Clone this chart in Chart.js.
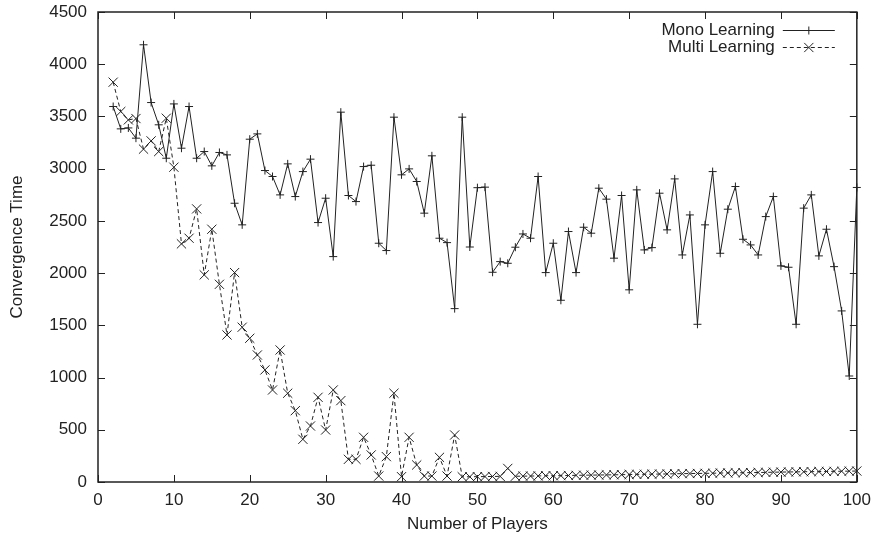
<!DOCTYPE html>
<html>
<head>
<meta charset="utf-8">
<script src="https://cdn.jsdelivr.net/npm/chart.js@4.4.0/dist/chart.umd.min.js"></script>
<style>
  body { margin: 0; background: #fff; }
  #wrap { width: 879px; height: 539px; }
</style>
</head>
<body>
<div id="wrap"><canvas id="myChart" width="879" height="539"></canvas></div>
<script>
// Número de jugadores (eje x)
const players = [2, 3, 4, 5, 6, 7, 8, 9, 10, 11, 12, 13, 14, 15, 16, 17, 18, 19, 20,
  21, 22, 23, 24, 25, 26, 27, 28, 29, 30, 31, 32, 33, 34, 35, 36, 37, 38, 39, 40,
  41, 42, 43, 44, 45, 46, 47, 48, 49, 50, 51, 52, 53, 54, 55, 56, 57, 58, 59, 60,
  61, 62, 63, 64, 65, 66, 67, 68, 69, 70, 71, 72, 73, 74, 75, 76, 77, 78, 79, 80,
  81, 82, 83, 84, 85, 86, 87, 88, 89, 90, 91, 92, 93, 94, 95, 96, 97, 98, 99, 100];

// Tiempo de convergencia, aprendizaje mono
const monoLearning = [3595, 3381, 3390, 3292, 4186, 3633, 3420, 3100, 3620, 3196,
  3595, 3100, 3164, 3027, 3155, 3132, 2669, 2462, 3282, 3333,
  2982, 2925, 2749, 3046, 2733, 2972, 3091, 2484, 2717, 2158,
  3541, 2743, 2685, 3020, 3033, 2286, 2216, 3493, 2941, 2998,
  2877, 2574, 3123, 2334, 2292, 1660, 3493, 2250, 2818, 2823,
  2008, 2110, 2094, 2248, 2375, 2334, 2925, 2005, 2286, 1740,
  2398, 2005, 2439, 2382, 2813, 2708, 2143, 2743, 1840, 2797,
  2222, 2244, 2765, 2414, 2902, 2174, 2557, 1510, 2462, 2972,
  2190, 2612, 2829, 2324, 2270, 2174, 2541, 2733, 2069, 2056,
  1510, 2622, 2749, 2165, 2420, 2062, 1638, 1015, 2820];

// Tiempo de convergencia, aprendizaje multi
const multiLearning = [3828, 3547, 3467, 3480, 3187, 3266, 3164, 3483, 3014, 2280,
  2334, 2615, 1983, 2420, 1893, 1408, 2005, 1482, 1376, 1216,
  1073, 881, 1264, 850, 683, 409, 536, 811, 498, 881,
  779, 217, 217, 428, 259, 57, 243, 850, 51, 428,
  163, 57, 57, 236, 57, 450, 50, 50, 51, 52,
  53, 54, 130, 55, 56, 57, 58, 60, 60, 61,
  62, 64, 65, 66, 67, 68, 69, 70, 72, 73,
  74, 75, 76, 77, 79, 80, 81, 82, 83, 84,
  86, 87, 88, 89, 90, 91, 92, 94, 95, 96,
  97, 98, 99, 100, 101, 102, 103, 104, 105];

const seriesLabels = ['Mono Learning', 'Multi Learning'];
const xTicks = [0, 10, 20, 30, 40, 50, 60, 70, 80, 90, 100];
const yTicks = [0, 500, 1000, 1500, 2000, 2500, 3000, 3500, 4000, 4500];

const FONT = 'Liberation Sans, Arial, Helvetica, sans-serif';
const INK = '#222';

// Marco estilo gnuplot: borde, ticks hacia adentro y leyenda
const gnuplotFrame = {
  id: 'gnuplotFrame',
  afterDatasetsDraw(chart) {
    const { ctx, chartArea: a, scales: { x, y } } = chart;
    ctx.save();
    ctx.strokeStyle = INK;
    ctx.lineWidth = 1;
    ctx.setLineDash([]);
    ctx.beginPath();
    yTicks.forEach(v => {
      const py = Math.round(y.getPixelForValue(v)) + 0.5;
      ctx.moveTo(a.left, py); ctx.lineTo(a.left + 7, py);
      ctx.moveTo(a.right, py); ctx.lineTo(a.right - 7, py);
    });
    xTicks.forEach(v => {
      const px = Math.round(x.getPixelForValue(v)) + 0.5;
      ctx.moveTo(px, a.bottom); ctx.lineTo(px, a.bottom - 7);
      ctx.moveTo(px, a.top); ctx.lineTo(px, a.top + 7);
    });
    ctx.stroke();
    ctx.lineWidth = 1.5;
    ctx.strokeRect(a.left, a.top, a.right - a.left, a.bottom - a.top);

    // leyenda
    ctx.font = '17px ' + FONT;
    ctx.fillStyle = INK;
    ctx.textAlign = 'right';
    ctx.textBaseline = 'middle';
    const textX = a.right - 82;
    const lineX0 = a.right - 74, lineX1 = a.right - 22;
    const midX = (lineX0 + lineX1) / 2;
    chart.data.datasets.forEach((ds, i) => {
      const rowY = a.top + 18 + i * 17;
      ctx.fillText(ds.label, textX, rowY);
      ctx.lineWidth = 1;
      ctx.strokeStyle = INK;
      ctx.setLineDash(ds.borderDash || []);
      ctx.beginPath();
      ctx.moveTo(lineX0, rowY + 0.5); ctx.lineTo(lineX1, rowY + 0.5);
      ctx.stroke();
      ctx.setLineDash([]);
      Chart.helpers.drawPoint(ctx, {
        pointStyle: ds.pointStyle, radius: ds.pointRadius, rotation: 0, borderWidth: 1
      }, midX, rowY + 0.5);
    });
    ctx.restore();
  }
};

const ctx = document.getElementById('myChart').getContext('2d');
new Chart(ctx, {
  type: 'line',
  data: {
    datasets: [{
      label: seriesLabels[0],
      data: players.map((p, i) => ({ x: p, y: monoLearning[i] })),
      borderColor: INK,
      borderWidth: 1,
      pointStyle: 'cross',
      pointRadius: 4,
      pointBorderColor: INK,
      pointBorderWidth: 1,
      tension: 0,
      clip: false
    }, {
      label: seriesLabels[1],
      data: players.map((p, i) => ({ x: p, y: multiLearning[i] })),
      borderColor: INK,
      borderWidth: 1,
      borderDash: [4, 3],
      pointStyle: 'crossRot',
      pointRadius: 6.5,
      pointBorderColor: INK,
      pointBorderWidth: 1,
      tension: 0,
      clip: false
    }]
  },
  options: {
    responsive: false,
    animation: false,
    layout: { padding: { top: 12, right: 22, left: 0, bottom: 0 } },
    plugins: { legend: { display: false }, tooltip: { enabled: false } },
    scales: {
      x: {
        type: 'linear', min: 0, max: 100,
        afterBuildTicks: s => { s.ticks = xTicks.map(v => ({ value: v })); },
        afterFit: s => { s.height = 57; },
        ticks: { color: INK, font: { family: FONT, size: 17 }, padding: 8, maxRotation: 0,
                 callback: v => String(v) },
        grid: { display: false, drawTicks: false },
        border: { display: false },
        title: { display: true, text: 'Number of Players', color: INK,
                 font: { family: FONT, size: 17 }, padding: { top: 0, bottom: 4 } }
      },
      y: {
        min: 0, max: 4500,
        afterBuildTicks: s => { s.ticks = yTicks.map(v => ({ value: v })); },
        afterFit: s => { s.width = 98; s.paddingTop = 0; s.paddingBottom = 0; },
        ticks: { color: INK, font: { family: FONT, size: 17 }, padding: 11,
                 callback: v => String(v) },
        grid: { display: false, drawTicks: false },
        border: { display: false },
        title: { display: true, text: 'Convergence Time', color: INK,
                 font: { family: FONT, size: 17 }, padding: { top: 7, bottom: 0 } }
      }
    }
  },
  plugins: [gnuplotFrame]
});
</script>
</body>
</html>
